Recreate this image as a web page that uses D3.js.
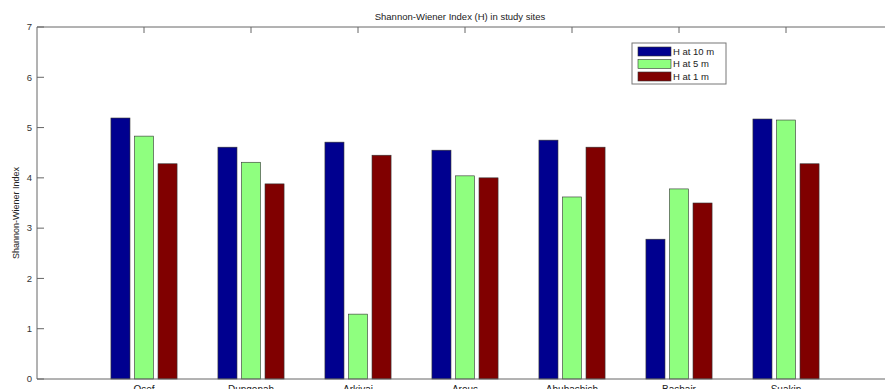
<!DOCTYPE html>
<html>
<head>
<meta charset="utf-8">
<script src="https://cdn.jsdelivr.net/npm/d3@7"></script>
<style>
  body { margin: 0; background: #fff; overflow: hidden; }
  svg { display: block; font-family: "Liberation Sans", Arial, sans-serif; }
</style>
</head>
<body>
<div id="chart"></div>
<script>
const sites = ["Osef", "Dungonah", "Arkiyai", "Arous", "Abuhashish", "Bashair", "Suakin"];
const seriesNames = ["H at 10 m", "H at 5 m", "H at 1 m"];
const h10 = [5.19, 4.61, 4.71, 4.55, 4.75, 2.78, 5.17];
const h5 = [4.83, 4.31, 1.29, 4.04, 3.62, 3.78, 5.15];
const h1 = [4.28, 3.88, 4.45, 4.00, 4.61, 3.50, 4.28];
const yTicks = [0, 1, 2, 3, 4, 5, 6, 7];
const colors = ["#00008f", "#8fff7f", "#800000"];

const width = 885, height = 389;
const margin = { top: 27, left: 37, bottom: 10 };
const plotRight = 893; // axes run past the cropped picture

const svg = d3.select("#chart").append("svg")
  .attr("width", width)
  .attr("height", height);

// x positions: categories at 1..7, domain 0..8
const x = d3.scaleLinear().domain([0, 8]).range([margin.left, plotRight]);
const y = d3.scaleLinear().domain([0, 7]).range([height - margin.bottom, margin.top]);

const series = [h10, h5, h1];
const offset = 0.22;   // group offset in category units
const barW = 0.178;

const g = svg.append("g");

series.forEach((vals, s) => {
  g.selectAll(".bar-" + s)
    .data(vals)
    .enter()
    .append("rect")
    .attr("class", "bar-" + s)
    .attr("x", (d, i) => x(i + 1 + (s - 1) * offset - barW / 2))
    .attr("y", d => y(d))
    .attr("width", x(barW) - x(0))
    .attr("height", d => y(0) - y(d))
    .attr("fill", colors[s])
    .attr("stroke", "#333")
    .attr("stroke-width", 0.6);
});

const axisColor = "#666";

// box lines
svg.append("line").attr("x1", x(0)).attr("x2", plotRight).attr("y1", y(7)).attr("y2", y(7))
  .attr("stroke", axisColor).attr("stroke-width", 1);
svg.append("line").attr("x1", x(0)).attr("x2", plotRight).attr("y1", y(0)).attr("y2", y(0))
  .attr("stroke", axisColor).attr("stroke-width", 1);
svg.append("line").attr("x1", x(0)).attr("x2", x(0)).attr("y1", y(0)).attr("y2", y(7))
  .attr("stroke", axisColor).attr("stroke-width", 1);

// y ticks (inward) and labels
const yAxis = svg.append("g");
yAxis.selectAll("line")
  .data(yTicks)
  .enter()
  .append("line")
  .attr("x1", x(0)).attr("x2", x(0) + 7)
  .attr("y1", d => y(d)).attr("y2", d => y(d))
  .attr("stroke", axisColor);
yAxis.selectAll("text")
  .data(yTicks)
  .enter()
  .append("text")
  .attr("x", x(0) - 5)
  .attr("y", d => y(d))
  .attr("dy", "0.35em")
  .attr("text-anchor", "end")
  .attr("font-size", 9.5)
  .attr("fill", "#333")
  .text(d => d);

// x ticks at top (pointing down)
svg.append("g").selectAll("line")
  .data(sites)
  .enter()
  .append("line")
  .attr("x1", (d, i) => x(i + 1)).attr("x2", (d, i) => x(i + 1))
  .attr("y1", y(7)).attr("y2", y(7) + 6)
  .attr("stroke", axisColor);

// category labels
svg.append("g").selectAll("text")
  .data(sites)
  .enter()
  .append("text")
  .attr("x", (d, i) => x(i + 1))
  .attr("y", y(0) + 14)
  .attr("text-anchor", "middle")
  .attr("font-size", 10)
  .attr("fill", "#222")
  .text(d => d);

// title
svg.append("text")
  .attr("x", 460)
  .attr("y", 20)
  .attr("text-anchor", "middle")
  .attr("font-size", 9.5)
  .attr("fill", "#222")
  .text("Shannon-Wiener Index (H) in study sites");

// y label
svg.append("text")
  .attr("transform", `translate(19,${(y(0) + y(7)) / 2 + 10}) rotate(-90)`)
  .attr("text-anchor", "middle")
  .attr("font-size", 9)
  .attr("fill", "#222")
  .text("Shannon-Wiener Index");

// legend
const legend = svg.append("g").attr("transform", "translate(632,43)");
legend.append("rect")
  .attr("width", 94).attr("height", 41)
  .attr("fill", "#fff").attr("stroke", "#777");
seriesNames.forEach((name, s) => {
  legend.append("rect")
    .attr("x", 6).attr("y", 4 + s * 12.5)
    .attr("width", 33).attr("height", 9)
    .attr("fill", colors[s]).attr("stroke", "#333").attr("stroke-width", 0.6);
  legend.append("text")
    .attr("x", 41).attr("y", 8.5 + s * 12.5)
    .attr("dy", "0.35em")
    .attr("font-size", 9.5)
    .attr("fill", "#222")
    .text(name);
});
</script>
</body>
</html>
